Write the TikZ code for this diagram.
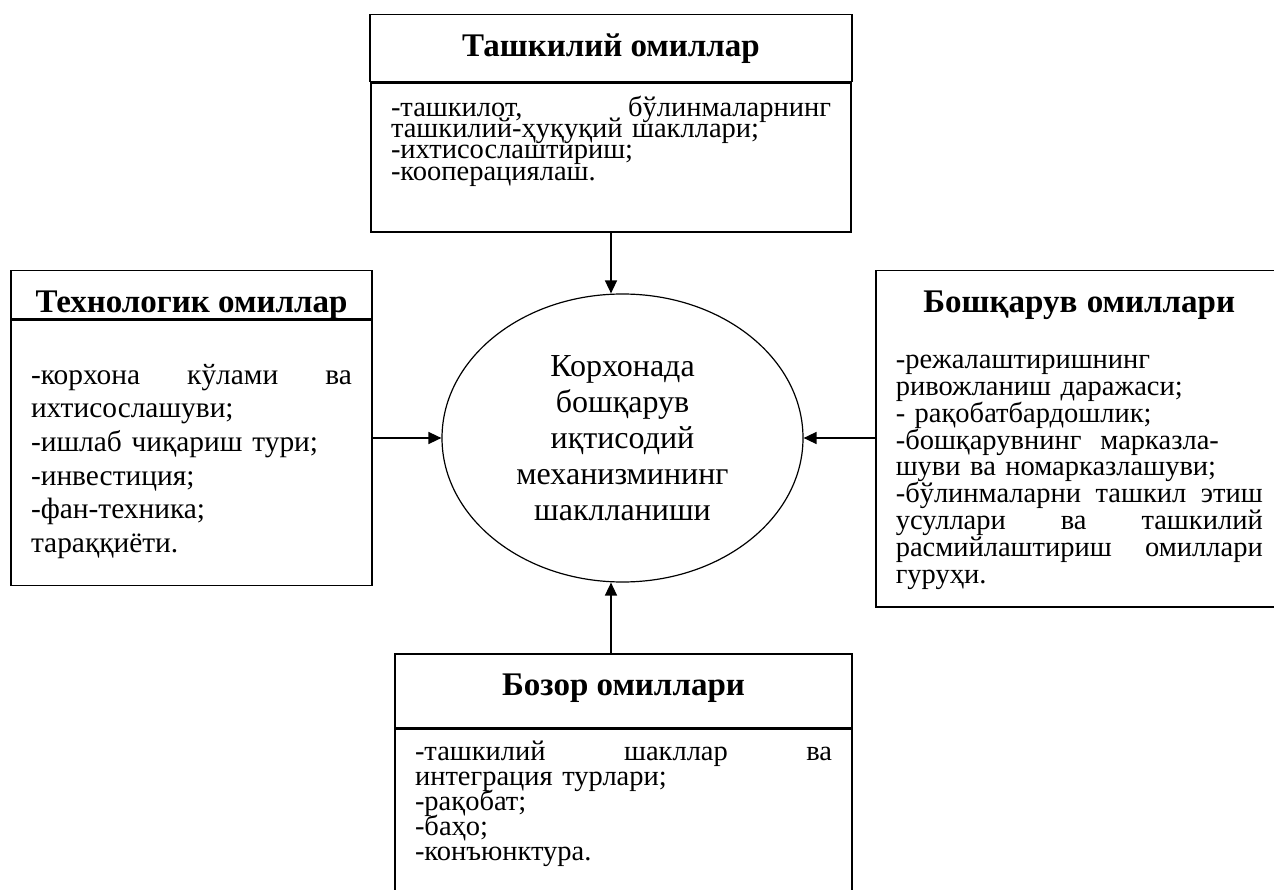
\documentclass[tikz,border=0pt]{standalone}
\usepackage{fontspec}
\setmainfont{Liberation Serif}
\usetikzlibrary{arrows.meta,shapes.geometric,positioning}
\newcommand\bodyfont[2]{\fontsize{#1}{#2}\selectfont\lineskiplimit=-60pt\relax}

\begin{document}
\begin{tikzpicture}[x=1pt,y=-1pt,
    frame/.style={draw,line width=1.5pt,inner xsep=20pt,inner ysep=0pt},
    head/.style={frame,font=\fontsize{33}{37}\selectfont\bfseries,align=center,text height=42pt},
    arr/.style={-{Triangle[length=13pt,width=12pt]},line width=1.5pt}]
  \useasboundingbox (0,0) rectangle (1274,890);

  \node[head,minimum width=482pt,text depth=25pt] (tashH) at (611,14) [anchor=north] {Ташкилий омиллар};
  \node[frame,anchor=north,text width=440pt,text height=33pt,text depth=116pt,font=\bodyfont{28.5}{21.3}] (tashB) at (tashH.south) {-ташкилот,\hfill бўлинмаларнинг\\
    ташкилий-ҳуқуқий шакллари;\\
    -ихтисослаштириш;\\
    -кооперациялаш.};

  \node[head,minimum width=361pt,text depth=6pt] (techH) at (191.5,270) [anchor=north] {Технологик омиллар};
  \node[frame,anchor=north,text width=321pt,text height=64pt,text depth=201pt,font=\bodyfont{29.4}{33.6}] (techB) at (techH.south) {-корхона\hfill кўлами\hfill ва\\
    ихтисослашуви;\\
    -ишлаб чиқариш тури;\\
    -инвестиция;\\
    -фан-техника;\\
    тараққиёти.};

  \node[frame,anchor=north west,text width=367pt,text height=42pt,text depth=294pt,font=\bodyfont{28.5}{26.8}] (mgmt) at (875,270) {{\centering\fontsize{33}{37}\selectfont\bfseries Бошқарув омиллари\par}\vspace{29.2pt}
    -режалаштиришнинг\\
    ривожланиш даражаси;\\
    - рақобатбардошлик;\\
    -бошқарувнинг\ \ марказла-\\
    шуви ва номарказлашуви;\\
    -бўлинмаларни\hfill ташкил\hfill этиш\\
    усуллари\hfill ва\hfill ташкилий\\
    расмийлаштириш\hfill омиллари\\
    гуруҳи.};

  \node[head,minimum width=457pt,text depth=32pt] (bozH) at (623.5,653) [anchor=north] {Бозор омиллари};
  \node[frame,anchor=north,text width=417pt,text height=31pt,text depth=175pt,font=\bodyfont{28.5}{25}] (bozB) at (bozH.south) {-ташкилий\hfill шакллар\hfill ва\\
    интеграция турлари;\\
    -рақобат;\\
    -баҳо;\\
    -конъюнктура.};

  \node[ellipse,draw,line width=1.2pt,inner sep=0pt,minimum width=361pt,minimum height=288pt,align=center,font=\fontsize{32}{36}\selectfont] (core) at (622.5,438) {Корхонада\\бошқарув\\иқтисодий\\механизмининг\\шаклланиши};

  \draw[arr] (tashB.south) -- (tashB.south |- core.north);
  \draw[arr] (techB.east |- core.west) -- (core.west);
  \draw[arr] (mgmt.west |- core.east) -- (core.east);
  \draw[arr] (tashB.south |- bozH.north) -- (tashB.south |- core.south);
\end{tikzpicture}
\end{document}
